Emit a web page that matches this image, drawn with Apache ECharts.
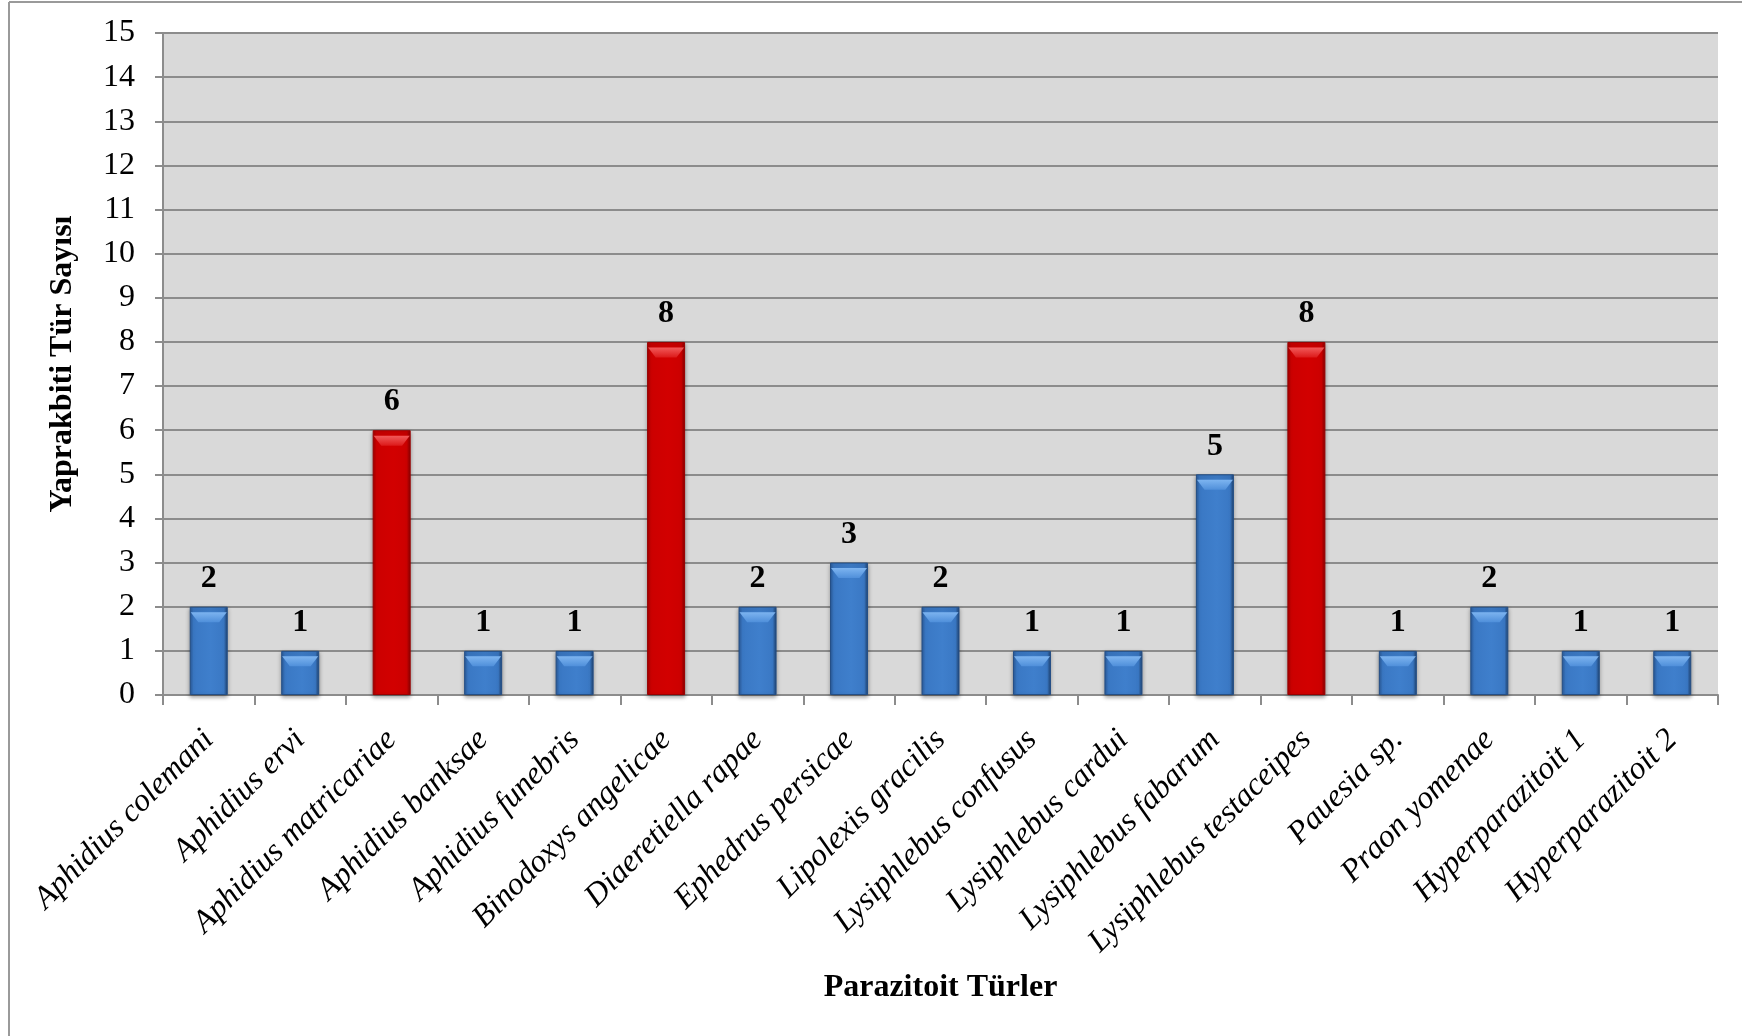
<!DOCTYPE html>
<html>
<head>
<meta charset="utf-8">
<script src="https://cdn.jsdelivr.net/npm/echarts@6/dist/echarts.min.js"></script>
<style>
html,body{margin:0;padding:0;background:#fff;}
#chart{width:1742px;height:1036px;}
</style>
</head>
<body>
<div id="chart"></div>
<script>
const categories = [
  'Aphidius colemani', 'Aphidius ervi', 'Aphidius matricariae', 'Aphidius banksae',
  'Aphidius funebris', 'Binodoxys angelicae', 'Diaeretiella rapae', 'Ephedrus persicae',
  'Lipolexis gracilis', 'Lysiphlebus confusus', 'Lysiphlebus cardui', 'Lysiphlebus fabarum',
  'Lysiphlebus testaceipes', 'Pauesia sp.', 'Praon yomenae', 'Hyperparazitoit 1', 'Hyperparazitoit 2'
];
const values = [2, 1, 6, 1, 1, 8, 2, 3, 2, 1, 1, 5, 8, 1, 2, 1, 1];
const highlighted = ['Aphidius matricariae', 'Binodoxys angelicae', 'Lysiphlebus testaceipes'];
const yTicks = [0, 15, 1]; // min, max, interval
const yAxisTitle = 'Yaprakbiti Tür Sayısı';
const xAxisTitle = 'Parazitoit Türler';

const FONT = '"Liberation Serif", "Times New Roman", serif';

function grad(c0, c1, c2, c3) {
  return new echarts.graphic.LinearGradient(0, 0, 1, 0, [
    {offset: 0, color: c0},
    {offset: 0.1, color: c1},
    {offset: 0.55, color: c2},
    {offset: 0.9, color: c1},
    {offset: 1, color: c3}
  ]);
}
const blueFill = grad('#2b5c9c', '#3a78c4', '#3f7fcc', '#1f4270');
const redFill = grad('#a80000', '#cc0000', '#d20000', '#8a0000');
const blueTop = new echarts.graphic.LinearGradient(0, 0, 0, 1, [
  {offset: 0, color: '#7db4f0'}, {offset: 1, color: '#4f8fda'}
]);
const redTop = new echarts.graphic.LinearGradient(0, 0, 0, 1, [
  {offset: 0, color: '#f25a5a'}, {offset: 1, color: '#dc1a1a'}
]);
const isHi = i => highlighted.includes(categories[i]);

const chart = echarts.init(document.getElementById('chart'), null, {renderer: 'canvas'});
chart.setOption({
  backgroundColor: '#ffffff',
  animation: false,
  grid: {
    left: 163, right: 24, top: 33, bottom: 341,
    show: true, backgroundColor: '#d9d9d9', borderWidth: 0
  },
  xAxis: {
    type: 'category',
    data: categories,
    boundaryGap: true,
    name: xAxisTitle,
    nameLocation: 'middle',
    nameGap: 277,
    nameTextStyle: {fontFamily: FONT, fontSize: 32, fontWeight: 'bold', color: '#000'},
    axisLine: {lineStyle: {color: '#8c8c8c', width: 2}},
    axisTick: {show: true, alignWithLabel: false, length: 10, lineStyle: {color: '#8c8c8c', width: 2}},
    axisLabel: {
      interval: 0, rotate: 45, margin: 40,
      fontFamily: FONT, fontSize: 32, fontStyle: 'italic', color: '#000'
    },
    splitLine: {show: false}
  },
  yAxis: {
    type: 'value',
    min: yTicks[0], max: yTicks[1], interval: yTicks[2],
    name: yAxisTitle,
    nameLocation: 'middle',
    nameGap: 84,
    nameTextStyle: {fontFamily: FONT, fontSize: 32, fontWeight: 'bold', color: '#000'},
    axisLine: {show: true, lineStyle: {color: '#8c8c8c', width: 2}},
    axisTick: {show: true, length: 8, lineStyle: {color: '#8c8c8c', width: 2}},
    axisLabel: {margin: 28, fontFamily: FONT, fontSize: 32, color: '#000'},
    splitLine: {show: true, lineStyle: {color: '#8c8c8c', width: 2}}
  },
  series: [{
    type: 'bar',
    barWidth: 38,
    barGap: '-100%',
    z: 2,
    data: values.map((v, i) => ({
      value: v,
      itemStyle: {
        color: isHi(i) ? redFill : blueFill,
        borderColor: isHi(i) ? '#9a0000' : '#244f86',
        borderWidth: 1,
        shadowColor: 'rgba(0,0,0,0.35)', shadowBlur: 4, shadowOffsetY: 2
      }
    })),
    label: {
      show: true, position: 'top', distance: 12,
      fontFamily: FONT, fontSize: 32, fontWeight: 'bold', color: '#000'
    }
  }, {
    type: 'pictorialBar',
    barWidth: 38,
    barGap: '-100%',
    z: 3,
    symbol: 'path://M0,0 L38,0 L30,10 L8,10 Z',
    symbolSize: [36, 10],
    symbolPosition: 'end',
    symbolOffset: [0, '55%'],
    silent: true,
    data: values.map((v, i) => ({
      value: v,
      itemStyle: {color: isHi(i) ? redTop : blueTop}
    }))
  }],
  graphic: [
    {type: 'line', shape: {x1: 9, y1: 2, x2: 1742, y2: 2}, style: {stroke: '#9a9a9a', lineWidth: 2}},
    {type: 'line', shape: {x1: 9, y1: 2, x2: 9, y2: 1036}, style: {stroke: '#9a9a9a', lineWidth: 2}}
  ]
});
</script>
</body>
</html>
